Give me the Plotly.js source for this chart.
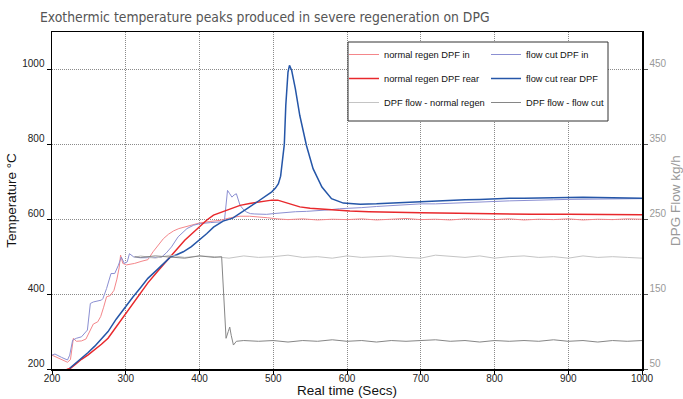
<!DOCTYPE html>
<html>
<head>
<meta charset="utf-8">
<script src="https://cdn.plot.ly/plotly-3.0.1.min.js"></script>
<style>html,body{margin:0;padding:0;background:#fff;}#chart{width:683px;height:399px;}</style>
</head>
<body>
<div id="chart"></div>
<script>
// ---- data ----
const seriesNames = ['normal regen DPF in','normal regen DPF rear','DPF flow - normal regen','flow cut DPF in','flow cut rear DPF','DPF flow - flow cut'];

const nrInT = [200,206,214,221,225,229,233,240,246,251,256,262,266,270,274,279,284,288,291,293,296,301,312,322,330,337,344,351,358,365,372,379,386,393,400,414,428,442,455,468,480,492,505,520,540,560,580,600,620,640,660,680,700,720,740,760,780,800,820,840,860,880,900,920,940,960,980,1000];
const nrInV = [237,232,224,218,225,282,274,275,280,300,320,326,340,365,393,396,410,440,470,504,482,478,482,488,492,513,530,548,560,569,575,579,584,588,590,594,597,604,608,608,607,604,601,599,601,598,600,599,601,598,600,602,599,600,598,601,600,599,601,598,600,599,601,598,600,599,601,600];

const fcInT = [200,204,213,221,224,228,233,240,248,252,256,267,269,274,280,285,290,294,298,302,305,311,320,330,340,348,355,362,371,383,392,400,415,430,434,438,441,444,447,450,455,460,464,469,475,482,491,500,514,530,545,559,575,590,604,620,640,660,680,700,720,740,760,780,800,820,840,860,880,900,920,940,960,980,1000];
const fcInV = [237,240,231,224,237,277,282,286,304,375,379,384,388,415,455,455,477,499,482,486,508,499,497,498,497,498,510,526,553,575,584,588,591,593,600,677,668,659,665,668,637,625,619,615,614,613,613,615,618,620,621,622,625,628,629,631,634,637,639,641,641,643,645,646,648,649,650,650,652,653,653,654,654,655,655];

const fcRearT = [224,232,240,249,258,267,276,287,299,310,320,330,342,351,360,369,378,389,400,410,419,432,445,455,466,478,488,498,503,507,510,512,515,517,520,522,525,530,536,545,554,566,579,595,618,640,660,680,700,720,740,760,780,800,820,840,860,880,900,920,940,960,980,1000];
const fcRearV = [202,215,228,244,261,280,300,333,366,393,417,442,464,481,498,505,513,527,544,562,579,595,603,615,630,646,660,673,683,695,715,745,800,904,993,1011,997,948,877,797,735,686,655,643,640,641,643,644,647,648,650,652,653,655,656,656,657,658,659,659,658,657,657,656];

const nrRearT = [220,225,232,240,249,258,267,276,287,299,310,320,330,345,360,370,380,390,400,410,419,428,437,446,455,468,482,498,506,514,525,536,550,563,581,604,630,660,700,750,800,850,900,950,1000];
const nrRearV = [199,202,213,226,238,251,266,282,312,344,373,402,430,465,498,521,544,562,580,598,611,618,624,630,637,642,646,651,651,646,639,633,629,627,624,622,620,618,617,616,614,613,613,612,612];

const nrFlowT = [312,320,340,360,380,400,420,440,460,480,500,520,540,560,580,600,620,640,660,680,700,720,740,760,780,800,820,840,860,880,900,920,940,960,980,1000];
const nrFlowV = [199,201,198,202,199,201,200,198,201,199,200,202,199,200,198,201,199,200,201,199,198,202,200,199,201,198,200,201,199,200,198,201,199,200,199,198];

const fcFlowT = [312,320,340,360,380,400,420,430,433,436,439,441,443,446,450,460,480,500,520,540,560,580,600,620,640,660,680,700,720,740,760,780,800,820,840,860,880,900,920,940,960,980,1000];
const fcFlowV = [200,199,201,200,198,201,199,200,140,91,100,106,95,82,87,88,87,88,86,88,87,89,87,88,86,88,87,88,89,87,88,86,88,87,88,87,89,87,88,86,88,87,88];

const xTickVals = [200,300,400,500,600,700,800,900,1000];
const yTickVals = [200,400,600,800,1000];
const y2TickVals = [50,150,250,350,450];

// ---- traces ----
function tr(x, y, name, color, width, yaxis, legend, rank, grp) {
  return {x: x, y: y, name: name, type: 'scatter', mode: 'lines',
    line: {color: color, width: width}, yaxis: yaxis, legend: legend,
    legendrank: rank, legendgroup: grp};
}
const data = [
  tr(nrFlowT, nrFlowV, seriesNames[2], '#c4c4c4', 1, 'y2', 'legend', 3, 'g3'),
  tr(fcFlowT, fcFlowV, seriesNames[5], '#868686', 1, 'y2', 'legend2', 3, 'g6'),
  tr(nrInT, nrInV, seriesNames[0], '#f4868a', 1, 'y', 'legend', 1, 'g1'),
  tr(fcInT, fcInV, seriesNames[3], '#8b8fd2', 1, 'y', 'legend2', 1, 'g4'),
  tr(nrRearT, nrRearV, seriesNames[1], '#e8282c', 1.5, 'y', 'legend', 2, 'g2'),
  tr(fcRearT, fcRearV, seriesNames[4], '#2556a8', 1.5, 'y', 'legend2', 2, 'g5')
];

const plotL = 52, plotR = 642, plotT = 32, plotB = 369;
const pw = plotR - plotL, ph = plotB - plotT;
const px = v => (v - plotL) / pw;
const py = v => (plotB - v) / ph;

const baseFont = 'Arial, Liberation Sans, sans-serif';
const legBase = {
  xanchor: 'left', yanchor: 'top', bgcolor: 'rgba(0,0,0,0)', borderwidth: 0,
  font: {family: baseFont, size: 9.3, color: '#111'},
  tracegroupgap: 5, itemwidth: 30, orientation: 'v'
};
const gridDash = '1px,1px';

const layout = {
  width: 683, height: 399,
  margin: {l: plotL, r: 683 - plotR, t: plotT, b: 399 - plotB, pad: 0},
  paper_bgcolor: '#fff', plot_bgcolor: '#fff',
  showlegend: true,
  title: {
    text: 'Exothermic temperature peaks produced in severe regeneration on DPG',
    font: {family: 'Liberation Sans Narrow, Arial Narrow, DejaVu Sans Condensed, sans-serif', size: 13.8, color: '#555'},
    x: 40 / 683, xanchor: 'left', xref: 'container',
    y: 1 - 17 / 399, yanchor: 'middle', yref: 'container'
  },
  xaxis: {
    range: [200, 1000], tickmode: 'array', tickvals: xTickVals,
    showgrid: true, gridcolor: '#8a8a8a', griddash: gridDash, gridwidth: 1,
    showline: true, linecolor: '#000', linewidth: 1.5, mirror: true,
    ticks: 'outside', ticklen: 4, tickcolor: '#000', ticklabelstandoff: -5,
    tickfont: {family: baseFont, size: 10, color: '#222'},
    title: {text: 'Real time (Secs)', font: {family: baseFont, size: 13.5, color: '#111'}, standoff: 3},
    zeroline: false, automargin: false
  },
  yaxis: {
    range: [200, 1100], tickmode: 'array', tickvals: yTickVals,
    showgrid: true, gridcolor: '#8a8a8a', griddash: gridDash, gridwidth: 1,
    showline: true, linecolor: '#000', linewidth: 1.5,
    ticks: 'outside', ticklen: 4, tickcolor: '#000', ticklabelshift: -6,
    tickfont: {family: baseFont, size: 10, color: '#222'},
    title: {text: 'Temperature °C', font: {family: baseFont, size: 13.5, color: '#111'}, standoff: 2},
    zeroline: false, automargin: false
  },
  yaxis2: {
    overlaying: 'y', side: 'right',
    range: [50, 500], tickmode: 'array', tickvals: y2TickVals,
    showgrid: false, showline: true, linecolor: '#000', linewidth: 1.5,
    ticks: 'outside', ticklen: 4, tickcolor: '#555', ticklabelshift: -6,
    tickfont: {family: baseFont, size: 10, color: '#999'},
    title: {text: 'DPG Flow kg/h', font: {family: baseFont, size: 13.5, color: '#999'}, standoff: 6},
    zeroline: false, automargin: false
  },
  legend: Object.assign({}, legBase, {x: px(344), y: py(40)}),
  legend2: Object.assign({}, legBase, {x: px(486), y: py(40)}),
  shapes: [{
    type: 'rect', xref: 'paper', yref: 'paper', layer: 'above',
    x0: px(348), x1: px(608), y0: py(121), y1: py(42),
    fillcolor: '#fff', line: {color: '#333', width: 1}
  }]
};

Plotly.newPlot('chart', data, layout, {staticPlot: true, displayModeBar: false});
</script>
</body>
</html>
